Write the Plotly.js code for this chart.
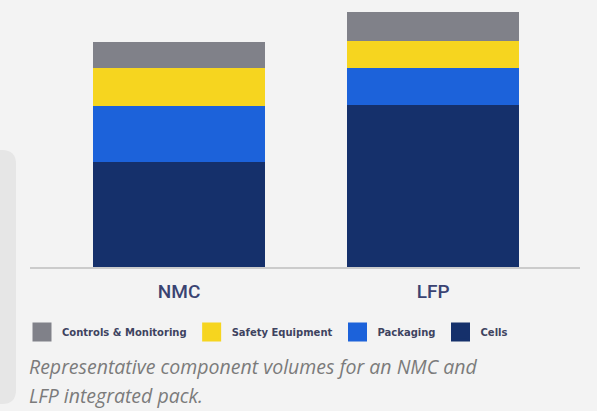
<!DOCTYPE html>
<html>
<head>
<meta charset="utf-8">
<script src="https://cdn.plot.ly/plotly-3.0.1.min.js"></script>
<style>html,body{margin:0;padding:0;background:#f3f3f3;}#chart{width:597px;height:411px;}</style>
</head>
<body>
<div id="chart"></div>
<script>
// Data (relative volume, NMC pack = 100)
const categories = ["NMC", "LFP"];
const cells = [46.5, 72.0];
const packaging = [25.0, 16.4];
const safetyEquipment = [17.0, 11.8];
const controlsMonitoring = [11.4, 13.2];
const seriesNames = ["Cells", "Packaging", "Safety Equipment", "Controls & Monitoring"];
const caption1 = "Representative component volumes for an NMC and";
const caption2 = "LFP integrated pack.";

const colors = {
  "Cells": "#15306b",
  "Packaging": "#1c62da",
  "Safety Equipment": "#f6d51f",
  "Controls & Monitoring": "#808189"
};
const seriesValues = [cells, packaging, safetyEquipment, controlsMonitoring];

const traces = [];
seriesNames.forEach((name, i) => {
  traces.push({
    type: "bar", x: categories, y: seriesValues[i], name: name,
    marker: {color: colors[name]}, showlegend: false, hoverinfo: "x+y+name"
  });
});
// legend entries (reference order: Controls, Safety, Packaging, Cells)
seriesNames.slice().reverse().forEach(name => {
  traces.push({
    type: "scatter", mode: "markers", x: [null], y: [null], name: name,
    marker: {symbol: "square", size: 16, color: colors[name], line: {color: colors[name], width: 3}},
    showlegend: true, hoverinfo: "skip"
  });
});

// plot area geometry in pixels
const W = 597, H = 411, L = 30, R = 17, T = 12, B = 144;
const pw = W - L - R, ph = H - T - B;
const px = x => (x - L) / pw;
const py = y => (T + ph - y) / ph;

// left rounded panel
const x0 = -5, x1 = 16, y0 = 150, y1 = 404, r = 14;
const panelPath = `M ${px(x0)} ${py(y0)} L ${px(x1 - r)} ${py(y0)} Q ${px(x1)} ${py(y0)} ${px(x1)} ${py(y0 + r)} ` +
  `L ${px(x1)} ${py(y1 - r)} Q ${px(x1)} ${py(y1)} ${px(x1 - r)} ${py(y1)} L ${px(x0)} ${py(y1)} Z`;

const layout = {
  width: W, height: H,
  paper_bgcolor: "#f3f3f3", plot_bgcolor: "#f3f3f3",
  margin: {l: L, r: R, t: T, b: B, pad: 0},
  barmode: "stack", bargap: 0.323,
  showlegend: true,
  legend: {
    orientation: "h", x: px(22), xanchor: "left", y: py(332), yanchor: "middle",
    font: {family: "DejaVu Sans, sans-serif", size: 10, color: "#3e4360", weight: "bold"},
    bgcolor: "rgba(0,0,0,0)", itemsizing: "trace", traceorder: "normal", tracegroupgap: 0,
    itemwidth: 30
  },
  xaxis: {
    type: "category", range: [-0.587, 1.578], fixedrange: true,
    showline: true, linecolor: "#cbcbcb", linewidth: 2,
    showgrid: false, zeroline: false, ticks: "",
    tickfont: {family: "Roboto, sans-serif", size: 19, color: "#3a4372", weight: 500},
    ticklabelstandoff: 6
  },
  yaxis: {
    range: [0, 113.3], visible: false, fixedrange: true, showgrid: false, zeroline: false
  },
  shapes: [{
    type: "path", xref: "paper", yref: "paper", path: panelPath,
    fillcolor: "#e6e6e6", line: {width: 0}, layer: "below"
  }],
  annotations: [
    {xref: "paper", yref: "paper", x: px(27), y: py(366), xanchor: "left", yanchor: "middle",
     text: caption1, showarrow: false,
     font: {family: "Open Sans, sans-serif", size: 19.5, color: "#7b7b7b", style: "italic"}},
    {xref: "paper", yref: "paper", x: px(27), y: py(395), xanchor: "left", yanchor: "middle",
     text: caption2, showarrow: false,
     font: {family: "Open Sans, sans-serif", size: 19.5, color: "#7b7b7b", style: "italic"}}
  ]
};

Plotly.newPlot("chart", traces, layout, {displayModeBar: false, staticPlot: true});
</script>
</body>
</html>
